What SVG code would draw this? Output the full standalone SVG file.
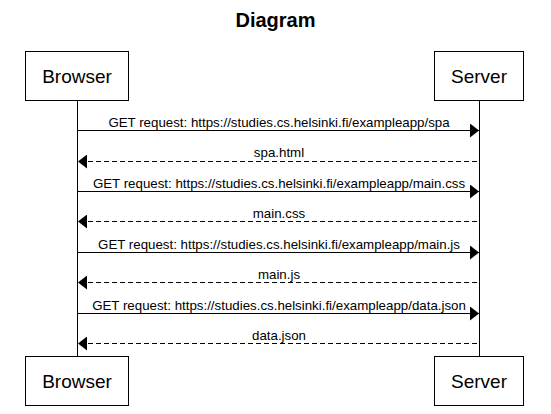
<svg xmlns="http://www.w3.org/2000/svg" width="551" height="414" viewBox="0 0 551 414">
<defs>
<style>
.box{fill:#fff;stroke:#000;stroke-width:1}
.actor{font-family:"Liberation Sans",Arial,sans-serif;font-size:19px;fill:#000;text-anchor:middle}
.life{stroke:#000;stroke-width:1}
.msg{stroke:#000;stroke-width:1;fill:none}
.dash{stroke-dasharray:5,3}
.lbl{font-family:"Liberation Sans",Arial,sans-serif;font-size:13.3px;fill:#000;text-anchor:middle}
.title{font-family:"Liberation Sans",Arial,sans-serif;font-size:20px;font-weight:bold;fill:#000;text-anchor:middle}
</style>
<marker id="ah" markerUnits="userSpaceOnUse" viewBox="0 0 9 14" refX="9" refY="7" markerWidth="9" markerHeight="14" orient="auto">
<path d="M0,0 L9,7 L0,14 z" fill="#000"/>
</marker>
</defs>
<rect width="551" height="414" fill="#fff"/>
<text class="title" x="275.5" y="27">Diagram</text>
<g id="lifelines">
<line class="life" x1="77.5" y1="101" x2="77.5" y2="356"/>
<line class="life" x1="479.5" y1="101" x2="479.5" y2="356"/>
</g>
<g id="browser-top"><rect class="box" x="25.5" y="51.5" width="103" height="49"/><text class="actor" x="77" y="83">Browser</text></g>
<g id="server-top"><rect class="box" x="434.5" y="51.5" width="89" height="49"/><text class="actor" x="479" y="83">Server</text></g>
<g id="browser-bottom"><rect class="box" x="25.5" y="356.5" width="103" height="49"/><text class="actor" x="77" y="388">Browser</text></g>
<g id="server-bottom"><rect class="box" x="434.5" y="356.5" width="89" height="49"/><text class="actor" x="479" y="388">Server</text></g>
<g id="connectors">
<line class="msg" x1="78" y1="130.5" x2="479" y2="130.5" marker-end="url(#ah)"/>
<text class="lbl" x="279" y="127">GET request: https://studies.cs.helsinki.fi/exampleapp/spa</text>
<line class="msg dash" x1="477" y1="161.5" x2="78" y2="161.5" marker-end="url(#ah)"/>
<text class="lbl" x="279" y="157">spa.html</text>
<line class="msg" x1="78" y1="191.5" x2="479" y2="191.5" marker-end="url(#ah)"/>
<text class="lbl" x="279" y="188">GET request: https://studies.cs.helsinki.fi/exampleapp/main.css</text>
<line class="msg dash" x1="477" y1="221.5" x2="78" y2="221.5" marker-end="url(#ah)"/>
<text class="lbl" x="279" y="218">main.css</text>
<line class="msg" x1="78" y1="252.5" x2="479" y2="252.5" marker-end="url(#ah)"/>
<text class="lbl" x="279" y="249">GET request: https://studies.cs.helsinki.fi/exampleapp/main.js</text>
<line class="msg dash" x1="477" y1="282.5" x2="78" y2="282.5" marker-end="url(#ah)"/>
<text class="lbl" x="279" y="279">main.js</text>
<line class="msg" x1="78" y1="313.5" x2="479" y2="313.5" marker-end="url(#ah)"/>
<text class="lbl" x="279" y="310">GET request: https://studies.cs.helsinki.fi/exampleapp/data.json</text>
<line class="msg dash" x1="477" y1="343.5" x2="78" y2="343.5" marker-end="url(#ah)"/>
<text class="lbl" x="279" y="340">data.json</text>
</g>
</svg>
